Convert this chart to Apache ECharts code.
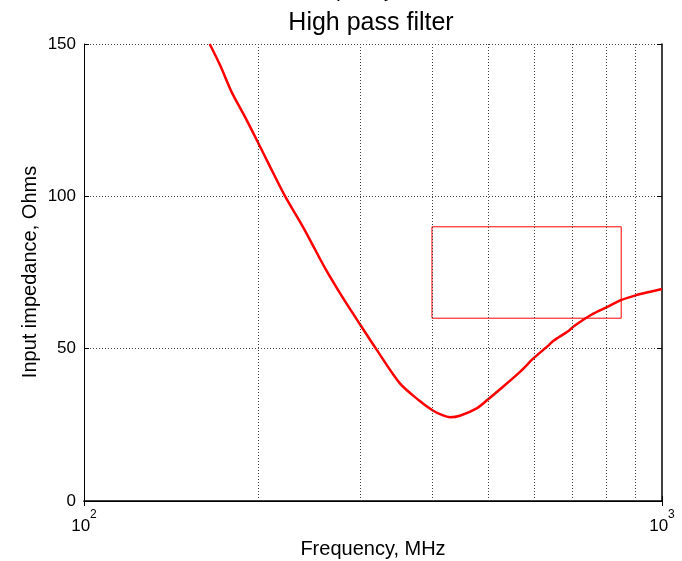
<!DOCTYPE html>
<html>
<head>
<meta charset="utf-8">
<script src="https://cdn.jsdelivr.net/npm/echarts@6/dist/echarts.min.js"></script>
<style>
html,body{margin:0;padding:0;background:#fff;}
#chart{width:682px;height:561px;}
</style>
</head>
<body>
<div id="chart"></div>
<script>
// Data
var freq = [165,172,180,190,199,210,223,240,249,262,274,287,300,321,352,380,402,413,430,447,478,501,524,568,599,632,649,689,702,756,800,851,904,950,1000];
var impedance = [150,143,134.3,126,118.5,109.6,99.9,89.5,83.8,76.0,69.8,63.7,58.1,49.6,38.6,33.0,29.6,28.5,27.5,28.0,30.4,33.5,36.6,42.4,46.8,50.6,52.6,55.8,57.2,61.2,63.5,66.0,67.6,68.6,69.6];
var gridFreqs = [200,300,400,500,600,700,800,900];
var rectFreq = [400, 850];
var rectImp = [60, 90];
var xRange = [100, 1000];
var yRange = [0, 150];
var yStep = 50;
var titleText = 'High pass filter';
var xName = 'Frequency, MHz';
var yName = 'Input impedance, Ohms';

var FONT = 'Liberation Sans';
var chart = echarts.init(document.getElementById('chart'), null, {renderer:'canvas'});

var seriesData = freq.map(function(f,i){ return [f, impedance[i]]; });

var option = {
  animation: false,
  backgroundColor: '#fff',
  grid: {left: 84, right: 20, top: 44, bottom: 60, containLabel: false, outerBoundsMode: 'none'},
  xAxis: [{
    type: 'log', logBase: 10, min: xRange[0], max: xRange[1],
    axisLine: {show: true, lineStyle: {color: '#000', width: 1}},
    axisTick: {show: true, inside: true, length: 5, lineStyle: {color: '#000'}},
    splitLine: {show: false},
    axisLabel: {
      margin: 8, color: '#000', fontFamily: FONT,
      formatter: function(v){ return '{b|10}{s|' + Math.round(Math.log10(v)) + '}'; },
      rich: {
        b: {fontSize: 17, fontFamily: FONT, color: '#000', lineHeight: 26, verticalAlign: 'bottom'},
        s: {fontSize: 12, fontFamily: FONT, color: '#000', lineHeight: 26, verticalAlign: 'top'}
      }
    },
    name: xName, nameLocation: 'middle', nameGap: 38,
    nameTextStyle: {fontSize: 20, fontFamily: FONT, color: '#000'}
  },{
    type: 'log', logBase: 10, min: xRange[0], max: xRange[1], position: 'top',
    axisLine: {show: true, lineStyle: {color: '#000', width: 1.5}},
    axisTick: {show: true, inside: true, length: 5, lineStyle: {color: '#000'}},
    axisLabel: {show: false}, splitLine: {show: false}
  }],
  yAxis: [{
    type: 'value', min: yRange[0], max: yRange[1], interval: yStep,
    axisLine: {show: true, lineStyle: {color: '#000', width: 1}},
    axisTick: {show: true, inside: true, length: 5, lineStyle: {color: '#000'}},
    splitLine: {show: true, lineStyle: {color: '#444', type: [1, 2], width: 1}},
    axisLabel: {margin: 8, fontSize: 17, fontFamily: FONT, color: '#000'}
  },{
    type: 'value', min: yRange[0], max: yRange[1], interval: yStep, position: 'right',
    axisLine: {show: true, lineStyle: {color: '#000', width: 1.5}},
    axisTick: {show: true, inside: true, length: 5, lineStyle: {color: '#000'}},
    axisLabel: {show: false}, splitLine: {show: false}
  }],
  graphic: [
    {type: 'text', style: {text: xName, x: 372, y: -9, align: 'center', verticalAlign: 'middle', font: '20px "' + FONT + '"', fill: '#000'}},
    {type: 'text', style: {text: titleText, x: 371, y: 23, align: 'center', verticalAlign: 'middle', font: '25px "' + FONT + '"', fill: '#000'}},
    {type: 'text', x: 30, y: 272, rotation: Math.PI/2, style: {text: yName, x: 0, y: 0, align: 'center', verticalAlign: 'middle', font: '20px "' + FONT + '"', fill: '#000'}}
  ],
  series: [{
    type: 'line', xAxisIndex: 0, yAxisIndex: 0, data: [], z: 1, silent: true,
    markLine: {
      silent: true, symbol: 'none', label: {show: false},
      lineStyle: {color: '#444', type: [1, 2], width: 1},
      data: gridFreqs.map(function(f){ return {xAxis: f}; })
    },
    markArea: {
      silent: true,
      itemStyle: {color: 'rgba(0,0,0,0)', borderColor: '#ff0000', borderWidth: 1},
      data: [[{xAxis: rectFreq[0], yAxis: rectImp[0]}, {xAxis: rectFreq[1], yAxis: rectImp[1]}]]
    }
  },{
    type: 'line', xAxisIndex: 0, yAxisIndex: 0, data: seriesData, z: 3,
    showSymbol: false, symbol: 'none', smooth: 0.3,
    lineStyle: {color: '#ff0000', width: 2.5}
  }]
};
chart.setOption(option);
</script>
</body>
</html>
